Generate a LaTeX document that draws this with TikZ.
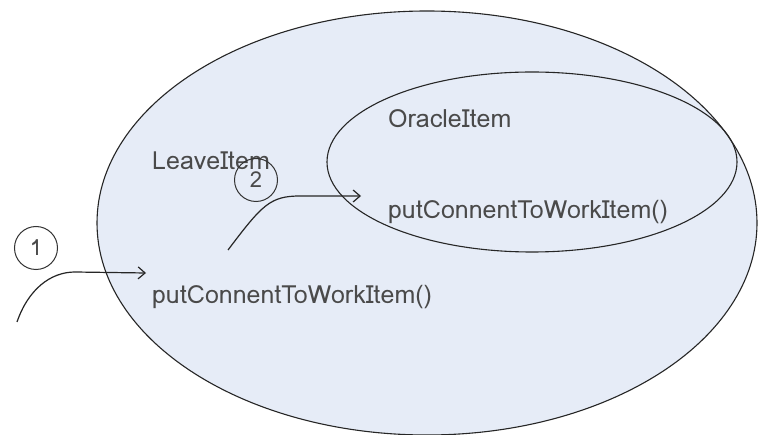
\documentclass[tikz,border=0pt]{standalone}
\usepackage{fontspec}
\usetikzlibrary{arrows.meta}
\setmainfont{Loma}
\definecolor{fillblue}{HTML}{E6ECF7}
\definecolor{txtgray}{HTML}{4A4A4A}
\begin{document}
\begin{tikzpicture}[x=1pt,y=-1pt,
  lbl/.style={anchor=west,inner sep=0pt,text=txtgray,font=\fontsize{25}{28}\selectfont},
  num/.style={circle,draw=black!80,line width=1pt,minimum size=43pt,inner sep=0pt,text=txtgray,font=\fontsize{22}{24}\selectfont},
  conn/.style={draw=black!85,line width=1.2pt,->,>={Straight Barb[length=7pt,width=12pt]}},
  outline/.style={draw=black!85,line width=1.1pt}]
\useasboundingbox (0,0) rectangle (760,435);
\fill[white] (0,0) rectangle (760,435);
\begin{scope}
\clip (0,0) rectangle (760,435);
\draw[outline,fill=fillblue] (427,223) ellipse [x radius=330, y radius=212];
\end{scope}
\draw[outline] (532,162) ellipse [x radius=205, y radius=90];
\node[lbl] (leave) at (152,161) {LeaveItem};
\node[lbl] (oracle) at (388,119) {OracleItem};
\node[lbl] (put2) at (388,212) {putConnentToWorkItem()};
\node[lbl] (put1) at (152,297) {putConnentToWorkItem()};
\node[num] (n1) at (36,248) {1};
\node[num] (n2) at (256,180) {2};
\coordinate (s1) at (17,322);
\coordinate (e1) at (146,273);
\coordinate (s2) at (228,250);
\coordinate (e2) at (361,196);
\draw[conn] (s1) .. controls (28,290) and (50,272) .. (75,272) -- (e1);
\draw[conn] (s2) .. controls (262,205) and (270,196) .. (300,196) -- (e2);
\end{tikzpicture}
\end{document}
